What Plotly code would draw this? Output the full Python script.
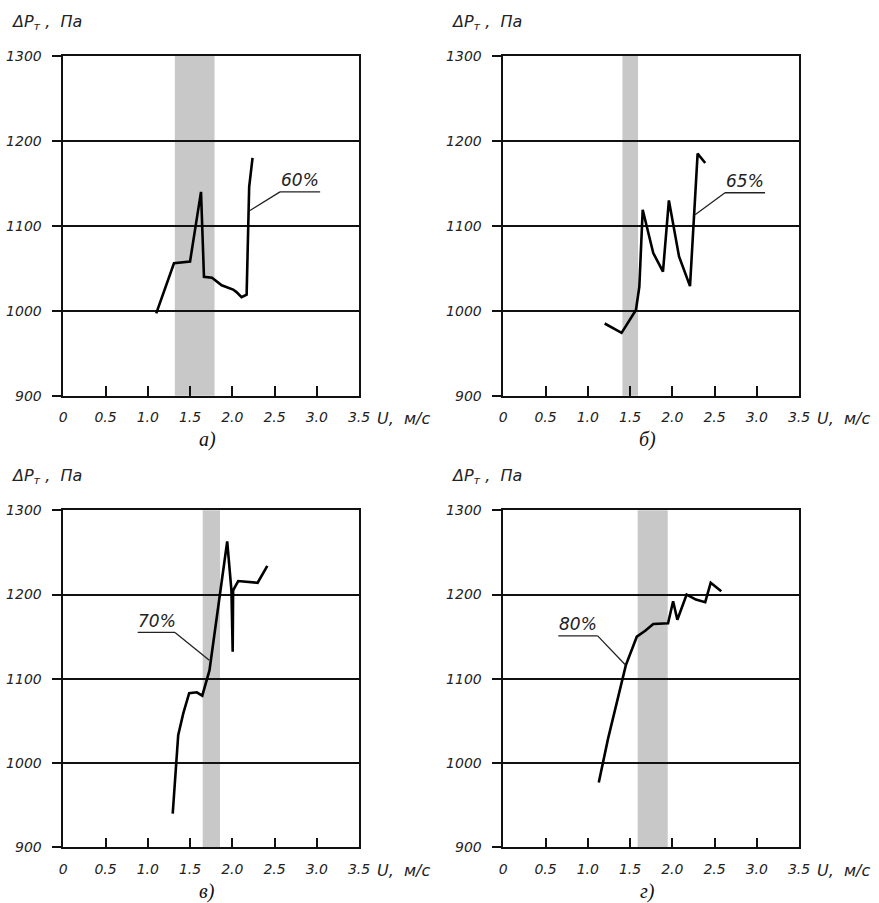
import plotly.graph_objects as go
from plotly.subplots import make_subplots

# ---------------- data ----------------
# panel а) 60 %
u_60 = [1.10, 1.31, 1.50, 1.63, 1.665, 1.76, 1.875, 2.01, 2.05, 2.11, 2.17, 2.20, 2.24]
dp_60 = [997, 1056, 1058, 1140, 1040, 1039, 1030, 1025, 1022, 1016, 1019, 1146, 1180]
band_60 = [1.32, 1.79]

# panel б) 65 %
u_65 = [1.20, 1.40, 1.57, 1.61, 1.65, 1.775, 1.89, 1.96, 2.08, 2.21, 2.30, 2.39]
dp_65 = [985, 974, 1001, 1028, 1119, 1068, 1046, 1130, 1064, 1029, 1185, 1174]
band_65 = [1.41, 1.595]

# panel в) 70 %
u_70 = [1.295, 1.36, 1.42, 1.49, 1.58, 1.645, 1.73, 1.94, 1.99, 2.005, 2.01, 2.07, 2.30, 2.415]
dp_70 = [940, 1033, 1059, 1083, 1084, 1080, 1110, 1263, 1205, 1132, 1205, 1216, 1214, 1234]
band_70 = [1.65, 1.855]

# panel г) 80 %
u_80 = [1.13, 1.24, 1.45, 1.58, 1.68, 1.775, 1.95, 2.01, 2.06, 2.17, 2.28, 2.39, 2.455, 2.58]
dp_80 = [977, 1029, 1116, 1150, 1157, 1165, 1166, 1192, 1170, 1200, 1194, 1191, 1214, 1204]
band_80 = [1.59, 1.946]

series_labels = ["60%", "65%", "70%", "80%"]
panel_captions = ["а)", "б)", "в)", "г)"]
x_ticks = [0, 0.5, 1.0, 1.5, 2.0, 2.5, 3.0, 3.5]
x_tick_text = ["0", "0.5", "1.0", "1.5", "2.0", "2.5", "3.0", "3.5"]
y_ticks = [900, 1000, 1100, 1200, 1300]
x_title = "U,  м/с"
y_title = "ΔP<sub>т</sub> ,  Па"

# label placement (text centre, underline x-range & y, leader end)
label_text_pos = [(2.80, 1154), (2.86, 1153), (1.105, 1169), (0.884, 1165)]
label_underline = [(2.565, 3.04, 1140), (2.624, 3.098, 1139), (0.88, 1.322, 1155), (0.651, 1.117, 1151)]
label_leader_end = [(2.21, 1118), (2.27, 1113), (1.728, 1122), (1.449, 1116)]
label_leader_start_is_right = [False, False, True, True]

# ---------------- figure ----------------
fig = make_subplots(rows=2, cols=2)

panels = [
    (u_60, dp_60, band_60, 1, 1),
    (u_65, dp_65, band_65, 1, 2),
    (u_70, dp_70, band_70, 2, 1),
    (u_80, dp_80, band_80, 2, 2),
]

W, H = 879, 903
x_dom_left = [63.3 / W, 359 / W]
x_dom_right = [503.3 / W, 799 / W]
y_dom_top = [1 - 395.7 / H, 1 - 56 / H]
y_dom_bot = [1 - 847.3 / H, 1 - 510.3 / H]

tick_font = dict(family="DejaVu Sans", size=14, color="#222", style="italic")
ink = "#111"

for i, (u, dp, band, r, c) in enumerate(panels):
    idx = "" if i == 0 else str(i + 1)
    xref, yref = "x" + idx, "y" + idx
    fig.add_trace(
        go.Scatter(x=u, y=dp, mode="lines", line=dict(color="#000", width=2.6),
                   showlegend=False, hoverinfo="skip"),
        row=r, col=c,
    )
    # shaded band
    fig.add_shape(type="rect", xref=xref, yref=yref + " domain", x0=band[0], x1=band[1],
                  y0=0, y1=1, fillcolor="#c8c8c8", line_width=0, layer="below")
    # label
    tx, ty = label_text_pos[i]
    ux0, ux1, uy = label_underline[i]
    lx, ly = label_leader_end[i]
    start_x = ux1 if label_leader_start_is_right[i] else ux0
    fig.add_shape(type="line", xref=xref, yref=yref, x0=ux0, x1=ux1, y0=uy, y1=uy,
                  line=dict(color="#222", width=1.3))
    fig.add_shape(type="line", xref=xref, yref=yref, x0=start_x, x1=lx, y0=uy, y1=ly,
                  line=dict(color="#222", width=1.3))
    fig.add_annotation(x=tx, y=ty, xref=xref, yref=yref, text=series_labels[i],
                       showarrow=False, font=dict(family="DejaVu Sans", size=17, color="#222",
                                                   style="italic"))

    xd = x_dom_left if c == 1 else x_dom_right
    yd = y_dom_top if r == 1 else y_dom_bot
    fig.update_xaxes(row=r, col=c, domain=xd, range=[0, 3.5], tickvals=x_ticks, ticktext=x_tick_text,
                     ticks="inside", ticklen=10, tickwidth=1.5, tickcolor=ink,
                     showline=True, mirror=True, linecolor=ink, linewidth=1.5,
                     showgrid=False, zeroline=False, tickfont=tick_font, ticklabelstandoff=8,
                     automargin=False, fixedrange=True)
    fig.update_yaxes(row=r, col=c, domain=yd, range=[900, 1300], tickvals=y_ticks,
                     ticks="outside", ticklen=10, tickwidth=1.5, tickcolor=ink,
                     showline=True, mirror=True, linecolor=ink, linewidth=1.5,
                     showgrid=True, gridcolor=ink, gridwidth=1.5, zeroline=False,
                     tickfont=tick_font, ticklabelstandoff=7, automargin=False, fixedrange=True)

    # axis titles & caption (paper coordinates)
    x_left_px = 0 if c == 1 else 440
    y_top_px = 0 if r == 1 else 453
    fig.add_annotation(xref="paper", yref="paper", x=(x_left_px + 9) / W, y=1 - (y_top_px + 23) / H,
                       xanchor="left", yanchor="middle", text=y_title, showarrow=False,
                       font=dict(family="DejaVu Sans", size=16, color="#222", style="italic"))
    fig.add_annotation(xref="paper", yref="paper", x=(x_left_px + 375) / W,
                       y=1 - (y_top_px + 418 + (-1 if r == 2 else 0)) / H,
                       xanchor="left", yanchor="middle", text=x_title, showarrow=False,
                       font=dict(family="DejaVu Sans", size=16, color="#222", style="italic"))
    fig.add_annotation(xref="paper", yref="paper", x=(x_left_px + 207) / W,
                       y=1 - (y_top_px + 439 + (0 if r == 1 else -1)) / H,
                       xanchor="center", yanchor="middle", text=panel_captions[i], showarrow=False,
                       font=dict(family="Liberation Serif", size=20, color="#111", style="italic"))

fig.update_layout(width=W, height=H, margin=dict(l=0, r=0, t=0, b=0, autoexpand=False),
                  plot_bgcolor="white", paper_bgcolor="white", showlegend=False)

fig.write_html("out.html", config={"displayModeBar": False},
               post_script="document.body.style.margin='0';document.body.style.overflow='hidden';")
